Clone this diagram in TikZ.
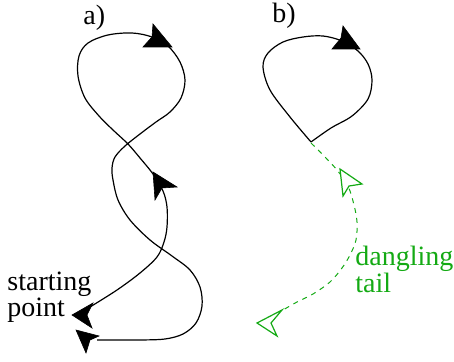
\documentclass[tikz,border=0pt]{standalone}
\usepackage{fontspec}
\setmainfont{Liberation Serif}
\definecolor{tailgreen}{RGB}{20,170,20}
\begin{document}
\begin{tikzpicture}[x=0.5pt,y=-0.5pt,
  curve/.style={line width=0.6pt,black},
  tailcurve/.style={line width=0.5pt,tailgreen,dash pattern=on 2.5pt off 2.5pt},
  headfill/.style={fill=black,draw=black,line width=0.3pt,line join=miter},
  headopen/.style={fill=white,draw=tailgreen,line width=0.6pt,line join=miter},
  lbl/.style={inner sep=0pt,anchor=base west,font=\fontsize{14}{14}\selectfont},
  mlbl/.style={inner sep=0pt,anchor=base west,align=left},
  glbl/.style={mlbl,text=tailgreen}]
\useasboundingbox (0,0) rectangle (454,362);

% ---- a) ----
\draw[curve] plot[smooth,tension=0.55] coordinates {
  (90,307) (117,290) (140,273) (157,257) (164,242) (167,227) (167,207) (163,191)
  (153,174) (140,158) (128,144) (113,130) (99,116) (85,98) (78,76) (79,56)
  (88,43) (108,35) (132,33) (152,37) (168,46) (180,62) (185,80) (181,98)
  (170,112) (156,122) (140,134) (125,146) (115,157) (112,168) (113,180) (118,200)
  (130,220) (150,240) (172,256) (190,270) (200,287) (202,306) (196,323) (183,334)
  (165,339) (140,340) (117,340) (97,340)};

\fill[headfill] (172,47) -- (153,24) -- (152,37) -- (143,47) -- cycle;
\fill[headfill] (153,172) -- (177,187) -- (162,188) -- (155,200) -- cycle;
\fill[headfill] (72,315) -- (93,303) -- (87,315) -- (92,328) -- cycle;
\fill[headfill] (76,330) -- (99,336) -- (90,340) -- (86,353) -- cycle;

\node[lbl] (la) at (83,25) {a)};
\node[mlbl,font=\fontsize{14}{11}\selectfont] (sp) at (7,317) {starting\\point};

% ---- b) ----
\draw[curve] plot[smooth,tension=0.55] coordinates {
  (311,142) (290,117) (270,90) (263,67) (268,53) (283,42) (303,37) (323,36)
  (342,41) (358,51) (368,64) (372,80) (368,99) (352,116) (331,128) (311,142)};

\draw[tailcurve] plot[smooth,tension=0.55] coordinates {
  (311,143) (324,156) (337,170) (348,186) (354,205) (357,222) (356,240)
  (350,255) (342,268) (330,282) (313,294) (297,302) (283,310)};

\fill[headfill] (360,49) -- (343,26) -- (341,38) -- (332,49) -- cycle;
\filldraw[headopen] (340,169) -- (362,184) -- (349,186) -- (343,196) -- cycle;
\filldraw[headopen] (257,323) -- (282,310) -- (271,323) -- (277,336) -- cycle;

\node[lbl] (lb) at (272,23) {b)};
\node[glbl,font=\fontsize{14}{12.5}\selectfont] (dt) at (355,293) {dangling\\tail};
\end{tikzpicture}
\end{document}
